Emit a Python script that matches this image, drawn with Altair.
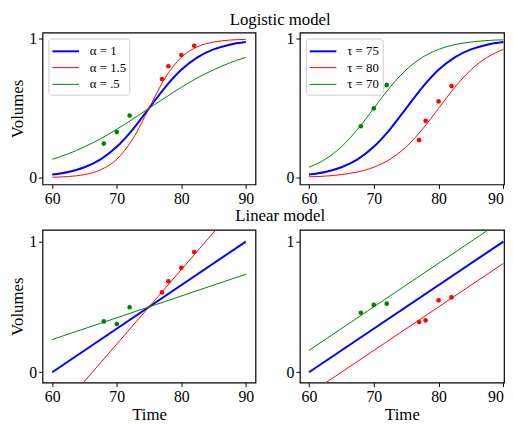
import altair as alt
import pandas as pd

FONT = "Liberation Serif"
COLORS = ["#0000ff", "#ff0000", "#008000"]
WIDTHS = [2, 1, 1]

# ---- data ----
t_grid = [60, 62.5, 65, 67.5, 70, 72.5, 75, 77.5, 80, 82.5, 85, 87.5, 90]
logi_a1 = [0.023, 0.042, 0.076, 0.133, 0.223, 0.349, 0.5, 0.651, 0.777, 0.867, 0.924, 0.958, 0.977]
logi_a15 = [0.004, 0.009, 0.023, 0.057, 0.133, 0.281, 0.5, 0.719, 0.867, 0.943, 0.977, 0.991, 0.996]
logi_a05 = [0.133, 0.173, 0.223, 0.281, 0.349, 0.423, 0.5, 0.577, 0.651, 0.719, 0.777, 0.827, 0.867]
logi_tau80 = [0.007, 0.012, 0.023, 0.042, 0.076, 0.133, 0.223, 0.349, 0.5, 0.651, 0.777, 0.867, 0.924]
logi_tau70 = [0.076, 0.133, 0.223, 0.349, 0.5, 0.651, 0.777, 0.867, 0.924, 0.958, 0.977, 0.988, 0.993]

t_lin = [60, 90]
lin_blue = [0.0, 1.0]
lin_red_slope = [-0.355, 1.355]
lin_green_slope = [0.25, 0.75]
lin_red_shift = [-0.167, 0.833]
lin_green_shift = [0.167, 1.167]

t_green = [68, 70, 72]
t_red = [77, 78, 80, 82]
pts_tl_green = [0.246, 0.329, 0.448]
pts_tl_red = [0.711, 0.803, 0.884, 0.950]
pts_tr_green = [0.371, 0.50, 0.667]
pts_tr_red = [0.271, 0.41, 0.55, 0.66]
pts_bl_green = [0.389, 0.369, 0.497]
pts_bl_red = [0.611, 0.696, 0.799, 0.920]
pts_br_green = [0.455, 0.515, 0.525]
pts_br_red = [0.384, 0.397, 0.550, 0.573]

alpha_labels = ["α = 1", "α = 1.5", "α = .5"]
tau_labels = ["τ = 75", "τ = 80", "τ = 70"]
x_ticks = [60, 70, 80, 90]
y_ticks = [0, 1]


def curve_df(t, series):
    rows = []
    for lab, vals in series:
        for x, y in zip(t, vals):
            rows.append({"t": x, "v": y, "s": lab})
    return pd.DataFrame(rows)


def pts_df(green, red):
    rows = [{"t": x, "v": y, "c": COLORS[2]} for x, y in zip(t_green, green)]
    rows += [{"t": x, "v": y, "c": COLORS[1]} for x, y in zip(t_red, red)]
    return pd.DataFrame(rows)


def panel(cdf, pdf, labels, xdom, w, h, ydom, legend_on, ytitle, xtitle, flush):
    xs = alt.Scale(domain=xdom, nice=False, zero=False)
    ys = alt.Scale(domain=ydom, nice=False, zero=False)
    xax = alt.Axis(values=x_ticks, title="Time" if xtitle else None, labelFlush=flush, format="d")
    yax = alt.Axis(values=y_ticks, title="Volumes" if ytitle else None, format="d")
    if legend_on:
        leg = alt.Legend(title=None, orient="top-left", offset=6)
    else:
        leg = None
    lines = alt.Chart(cdf).mark_line(clip=True, interpolate="monotone").encode(
        x=alt.X("t:Q", scale=xs, axis=xax),
        y=alt.Y("v:Q", scale=ys, axis=yax),
        color=alt.Color("s:N", scale=alt.Scale(domain=labels, range=COLORS), legend=leg),
        strokeWidth=alt.StrokeWidth("s:N", scale=alt.Scale(type="ordinal", domain=labels, range=WIDTHS), legend=leg),
    )
    pts = alt.Chart(pdf).mark_circle(size=22, opacity=1).encode(
        x=alt.X("t:Q", scale=xs),
        y=alt.Y("v:Q", scale=ys),
        fill=alt.Fill("c:N", scale=None),
    )
    return alt.layer(lines, pts).properties(width=w, height=h)


TOP_Y = [-0.048, 1.045]
BOT_Y = [-0.08, 1.09]
LEFT_X = [58.5, 91.5]
RIGHT_X = [58.6, 90.1]
WL, WR, H = 216, 207, 154

tl = panel(curve_df(t_grid, [(alpha_labels[0], logi_a1), (alpha_labels[1], logi_a15), (alpha_labels[2], logi_a05)]),
           pts_df(pts_tl_green, pts_tl_red), alpha_labels, LEFT_X, WL, H, TOP_Y, True, True, False, False)
tr = panel(curve_df(t_grid, [(tau_labels[0], logi_a1), (tau_labels[1], logi_tau80), (tau_labels[2], logi_tau70)]),
           pts_df(pts_tr_green, pts_tr_red), tau_labels, RIGHT_X, WR, H, TOP_Y, True, False, False, True)
bl = panel(curve_df(t_lin, [(alpha_labels[0], lin_blue), (alpha_labels[1], lin_red_slope), (alpha_labels[2], lin_green_slope)]),
           pts_df(pts_bl_green, pts_bl_red), alpha_labels, LEFT_X, WL, H + 1, BOT_Y, False, True, True, False)
br = panel(curve_df(t_lin, [(tau_labels[0], lin_blue), (tau_labels[1], lin_red_shift), (tau_labels[2], lin_green_shift)]),
           pts_df(pts_br_green, pts_br_red), tau_labels, RIGHT_X, WR, H + 1, BOT_Y, False, False, True, True)


def row(a, b, title, off):
    return alt.hconcat(a, b, spacing=29, title=alt.TitleParams(title, anchor="middle", dx=24, offset=off)).resolve_scale(
        color="independent", strokeWidth="independent").resolve_legend(color="independent", strokeWidth="independent")


chart = alt.vconcat(row(tl, tr, "Logistic model", 1), row(bl, br, "Linear model", 4), spacing=0).resolve_scale(
    color="independent", strokeWidth="independent").resolve_legend(color="independent", strokeWidth="independent")

chart = chart.configure(
    font=FONT, padding={"left": 0, "top": 0, "right": 0, "bottom": 0}
).configure_view(
    stroke="black", strokeWidth=1.2
).configure_axis(
    labelFont=FONT, labelFontSize=16, labelColor="black", titleFont=FONT, titleFontSize=17,
    titleFontWeight="normal", titleColor="black", tickColor="black", tickSize=4, tickWidth=1,
    domain=False, grid=False, labelPadding=2, titlePadding=2,
).configure_legend(
    labelFont=FONT, labelFontSize=13, labelColor="black", symbolType="M-1,0H2", symbolSize=324,
    labelOffset=19, rowPadding=0, padding=3, fillColor="white", strokeColor="#cccccc",
    cornerRadius=3,
).configure_title(
    font=FONT, fontSize=17, fontWeight="normal", color="black"
)

chart.save("out.html", embed_options={"renderer": "svg", "actions": False})
